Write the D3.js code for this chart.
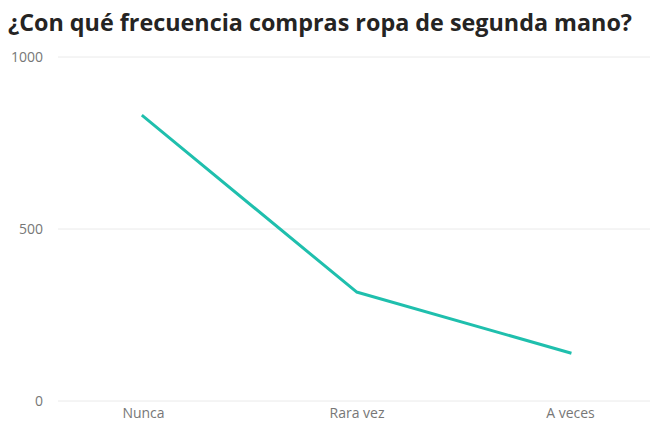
<!DOCTYPE html>
<html><head><meta charset="utf-8">
<script src="https://cdn.jsdelivr.net/npm/d3@7"></script>
<style>body{margin:0;background:#fff}svg{display:block}</style>
</head><body>
<script>
const title = "¿Con qué frecuencia compras ropa de segunda mano?";
const categories = ["Nunca", "Rara vez", "A veces"];
const values = [828, 317, 140];
const yTicks = [0, 500, 1000];

const W = 650, H = 428;
const FONT = "'Segoe UI', 'Open Sans', sans-serif";
const svg = d3.select("body").append("svg").attr("width", W).attr("height", H);

svg.append("text").attr("x", 8).attr("y", 31)
  .attr("font-family", FONT)
  .attr("font-weight", 700).attr("font-size", 22.5).attr("fill", "#252423")
  .attr("textLength", 624).attr("lengthAdjust", "spacingAndGlyphs")
  .text(title);

const y = d3.scaleLinear().domain([0, 1000]).range([401, 57]);
const x = d3.scalePoint().domain(categories).range([143, 570]);

const grid = svg.append("g");
grid.selectAll("line").data(yTicks).join("line")
  .attr("x1", 58).attr("x2", W).attr("y1", d => y(d)).attr("y2", d => y(d))
  .attr("stroke", "#eaeaea").attr("stroke-width", 1);

const yAxis = d3.axisLeft(y).tickValues(yTicks).tickFormat(d3.format("d")).tickSize(0).tickPadding(0);
svg.append("g").attr("transform", "translate(43,0)").call(yAxis)
  .call(g => g.select(".domain").remove())
  .selectAll("text").attr("font-family", FONT)
  .attr("font-size", 14).attr("fill", "#777");

const xAxis = d3.axisBottom(x).tickSize(0).tickPadding(0);
svg.append("g").attr("transform", "translate(0,408)").call(xAxis)
  .call(g => g.select(".domain").remove())
  .selectAll("text").attr("font-family", FONT)
  .attr("font-size", 14).attr("fill", "#777");

const line = d3.line().x((d, i) => x(categories[i])).y(d => y(d));
svg.append("path").datum(values).attr("d", line)
  .attr("fill", "none").attr("stroke", "#1fbfad").attr("stroke-width", 3)
  .attr("stroke-linejoin", "round").attr("stroke-linecap", "square");
</script>
</body></html>
